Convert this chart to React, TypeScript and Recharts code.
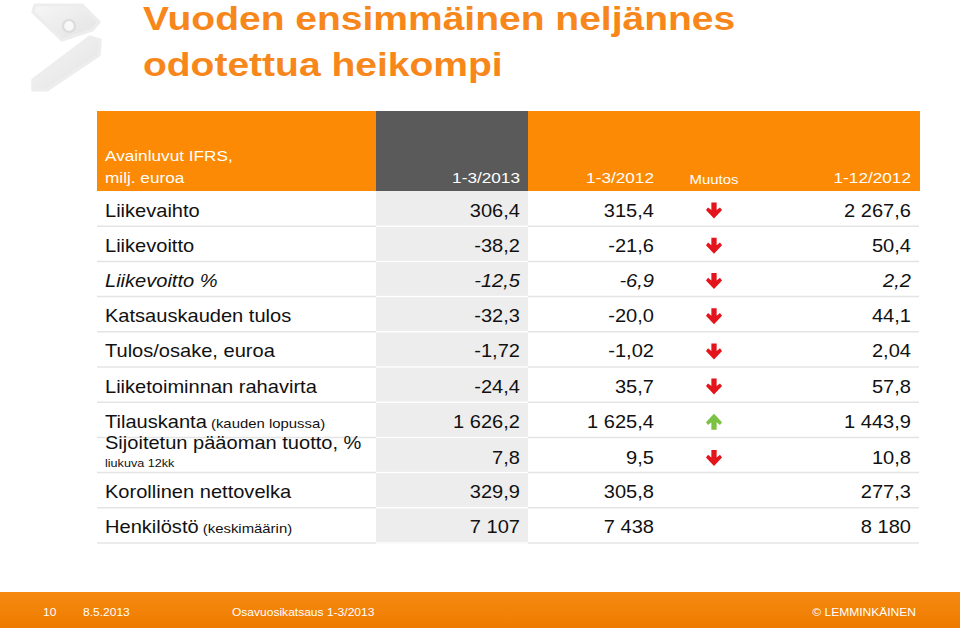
import { ComposedChart, Bar, XAxis, YAxis } from "recharts";

// the slide is a 4:3 page stretched to 960 wide, so everything is drawn
// on a narrower canvas and scaled horizontally
const S = 960 / 837;
const W = 837;
const H = 628;
const sx = (v: number) => v / S;

const BODY_TOP = 191;
const BODY_BOTTOM = 543;
const FONT = "Arial, 'Liberation Sans', sans-serif";

const ORANGE = "#FD8A04";
const TITLE_ORANGE = "#F7871A";
const DARK = "#5A5A5A";
const LIGHT = "#EDEDED";

const columns = ["1-3/2013", "1-3/2012", "Muutos", "1-12/2012"];

const metrics = [
  "Liikevaihto",
  "Liikevoitto",
  "Liikevoitto %",
  "Katsauskauden tulos",
  "Tulos/osake, euroa",
  "Liiketoiminnan rahavirta",
  "Tilauskanta",
  "Sijoitetun pääoman tuotto, %",
  "Korollinen nettovelka",
  "Henkilöstö",
];
const metricNotes = ["", "", "", "", "", "", "(kauden lopussa)", "liukuva 12kk", "", "(keskimäärin)"];

const q1_2013 = [306.4, -38.2, -12.5, -32.3, -1.72, -24.4, 1626.2, 7.8, 329.9, 7107];
const q1_2012 = [315.4, -21.6, -6.9, -20.0, -1.02, 35.7, 1625.4, 9.5, 305.8, 7438];
const fy2012 = [2267.6, 50.4, 2.2, 44.1, 2.04, 57.8, 1443.9, 10.8, 277.3, 8180];
const change = ["down", "down", "down", "down", "down", "down", "up", "down", "", ""];
const decimals = [1, 1, 1, 1, 2, 1, 1, 1, 1, 0];

const NOTE_BELOW = "Sijoitetun pääoman tuotto, %";
const ITALIC_ROW = "Liikevoitto %";

const rows = metrics.map((m, i) => ({
  label: m,
  note: metricNotes[i],
  a: q1_2013[i],
  b: q1_2012[i],
  c: fy2012[i],
  change: change[i],
  dec: decimals[i],
}));

const fmt = (v: number, d: number) => {
  const [int, frac] = Math.abs(v).toFixed(d).split(".");
  const grouped = int.replace(/\B(?=(\d{3})+(?!\d))/g, " ");
  return (v < 0 ? "-" : "") + grouped + (frac ? "," + frac : "");
};

function Arrow({ cx, cy, dir }: { cx: number; cy: number; dir: string }) {
  const t = cy - 8;
  const pts = [
    [-2.3, 0], [2.3, 0], [2.3, 7.5], [5.2, 4.8], [7, 7.5], [0, 16], [-7, 7.5], [-5.2, 4.8], [-2.3, 7.5],
  ];
  const d = pts
    .map(([x, y], k) => `${k ? "L" : "M"}${cx + x},${dir === "up" ? cy + 8 - y : t + y}`)
    .join(" ") + " Z";
  return <path d={d} fill={dir === "up" ? "#7CC242" : "#E3141B"} />;
}

function RowTick(props: any) {
  const { y, payload } = props;
  const i = metrics.indexOf(payload?.value);
  if (i < 0 || y == null) return null;
  const r = rows[i];
  const band = (BODY_BOTTOM - BODY_TOP) / metrics.length;
  const tall = r.label === NOTE_BELOW;
  const base = tall ? y + 9.5 : y + 8;
  const italic = r.label === ITALIC_ROW ? "italic" : "normal";
  const val = { fontSize: 17.5, fill: "#111", textAnchor: "end" as const, fontStyle: italic };
  return (
    <g fontFamily={FONT}>
      <line x1={sx(97)} x2={sx(919)} y1={y + band / 2} y2={y + band / 2} stroke="#E4E4E4" strokeWidth={1.5} />
      <line x1={sx(376)} x2={sx(528)} y1={y + band / 2} y2={y + band / 2} stroke="#FFFFFF" strokeWidth={1.5} />
      {tall ? (
        <>
          <text x={sx(105)} y={y - 5.5} fontSize={17.5} fill="#111">{r.label}</text>
          <text x={sx(105)} y={y + 12} fontSize={11} fill="#111">{r.note}</text>
        </>
      ) : (
        <text x={sx(105)} y={base} fontSize={17.5} fill="#111" fontStyle={italic}>
          {r.label}
          {r.note ? <tspan fontSize={13}>{" " + r.note}</tspan> : null}
        </text>
      )}
      <text x={sx(520)} y={base} {...val}>{fmt(r.a, r.dec)}</text>
      <text x={sx(654)} y={base} {...val}>{fmt(r.b, r.dec)}</text>
      <text x={sx(911)} y={base} {...val}>{fmt(r.c, r.dec)}</text>
      {r.change ? <Arrow cx={sx(714)} cy={tall ? y + 3 : y + 2} dir={r.change} /> : null}
    </g>
  );
}

const logoTop = [[35, 5], [82, 5], [99, 22], [92, 30], [62, 40], [33, 12]];
const logoBottom = [[33, 80], [90, 37], [100, 40], [99, 55], [47, 90], [33, 90]];
const poly = (p: number[][]) => p.map(([x, y]) => `${sx(x)},${y}`).join(" ");

function Background() {
  const headerBase = 183;
  return (
    <svg width={W} height={H} style={{ position: "absolute", left: 0, top: 0 }} fontFamily={FONT}>
      <defs>
        <linearGradient id="foot" x1="0" y1="0" x2="0" y2="1">
          <stop offset="0" stopColor="#F68A12" />
          <stop offset="1" stopColor="#EE7B00" />
        </linearGradient>
        <linearGradient id="logo" x1="0" y1="0" x2="1" y2="1">
          <stop offset="0" stopColor="#F6F6F6" />
          <stop offset="1" stopColor="#E2E2E2" />
        </linearGradient>
      </defs>
      <polygon points={poly(logoTop)} fill="url(#logo)" strokeLinejoin="round" stroke="#EDEDED" strokeWidth={3} />
      <polygon points={poly(logoBottom)} fill="url(#logo)" strokeLinejoin="round" stroke="#EDEDED" strokeWidth={3} />
      <ellipse cx={sx(69)} cy={26} rx={sx(6)} ry={6} fill="#F8F8F8" stroke="#DCDCDC" strokeWidth={2} />

      <text x={sx(143)} y={30} fontSize={34} fontWeight="bold" fill={TITLE_ORANGE}>Vuoden ensimmäinen neljännes</text>
      <text x={sx(143)} y={76} fontSize={34} fontWeight="bold" fill={TITLE_ORANGE}>odotettua heikompi</text>

      <rect x={sx(97)} y={111} width={sx(920) - sx(97)} height={80} fill={ORANGE} />
      <rect x={sx(376)} y={111} width={sx(528) - sx(376)} height={80} fill={DARK} />
      <rect x={sx(376)} y={BODY_TOP} width={sx(528) - sx(376)} height={BODY_BOTTOM - BODY_TOP} fill={LIGHT} />

      <text x={sx(105)} y={161} fontSize={15} fill="#fff">Avainluvut IFRS,</text>
      <text x={sx(105)} y={headerBase} fontSize={15} fill="#fff">milj. euroa</text>
      <text x={sx(520)} y={headerBase} fontSize={15} fill="#fff" textAnchor="end">{columns[0]}</text>
      <text x={sx(654)} y={headerBase} fontSize={15} fill="#fff" textAnchor="end">{columns[1]}</text>
      <text x={sx(714)} y={headerBase + 1} fontSize={13} fill="#fff" textAnchor="middle">{columns[2]}</text>
      <text x={sx(911)} y={headerBase} fontSize={15} fill="#fff" textAnchor="end">{columns[3]}</text>

      <rect x={0} y={592} width={W} height={H - 592} fill="url(#foot)" />
      <g fontSize={10.5} fill="#fff">
        <text x={sx(43)} y={616}>10</text>
        <text x={sx(83)} y={616}>8.5.2013</text>
        <text x={sx(232)} y={616}>Osavuosikatsaus 1-3/2013</text>
        <text x={sx(916)} y={616} textAnchor="end">© LEMMINKÄINEN</text>
      </g>
    </svg>
  );
}

export default function App() {
  return (
    <div
      style={{
        position: "absolute",
        left: 0,
        top: 0,
        width: W,
        height: H,
        transform: `scaleX(${S})`,
        transformOrigin: "0 0",
        background: "#fff",
        overflow: "hidden",
      }}
    >
      <Background />
      <div style={{ position: "absolute", left: 0, top: 0 }}>
        <ComposedChart
          layout="vertical"
          width={W}
          height={H}
          data={rows}
          margin={{ top: BODY_TOP, bottom: H - BODY_BOTTOM, left: sx(97) - 2, right: W - sx(919) }}
        >
          <XAxis type="number" domain={[0, 1]} hide />
          <YAxis
            type="category"
            dataKey="label"
            width={2}
            axisLine={false}
            tickLine={false}
            interval={0}
            tick={<RowTick />}
          />
          <Bar dataKey="none" isAnimationActive={false} />
        </ComposedChart>
      </div>
    </div>
  );
}
